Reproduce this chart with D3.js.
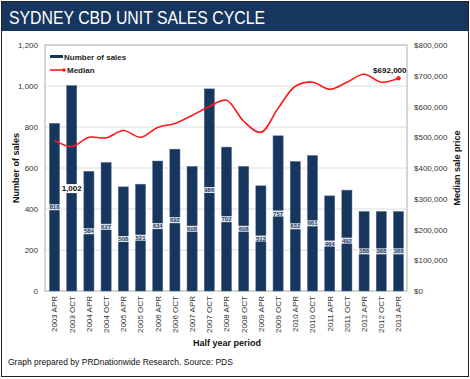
<!DOCTYPE html>
<html><head><meta charset="utf-8">
<script src="https://cdn.jsdelivr.net/npm/d3@7"></script>
<style>body{margin:0;background:#fff}svg{display:block;font-family:"Liberation Sans",Arial,sans-serif}</style>
</head><body>
<svg id="c" width="470" height="379"></svg>
<script>
const categories = ["2003 APR","2003 OCT","2004 APR","2004 OCT","2005 APR","2005 OCT","2006 APR","2006 OCT","2007 APR","2007 OCT","2008 APR","2008 OCT","2009 APR","2009 OCT","2010 APR","2010 OCT","2011 APR","2011 OCT","2012 APR","2012 OCT","2013 APR"];
const sales = [818,1002,584,627,508,521,634,692,608,986,702,608,513,757,632,661,464,492,388,388,388];
const median = [490000,470000,500000,498000,522000,500000,532000,545000,571000,600000,620000,552000,516000,594000,666000,679000,656000,679000,705000,679000,692000];
const leftTicks = [0,200,400,600,800,1000,1200];
const rightTicks = [0,100000,200000,300000,400000,500000,600000,700000,800000];

const svg = d3.select("#c");
// frame
svg.append("rect").attr("x",1.5).attr("y",1.5).attr("width",467).attr("height",375).attr("fill","#fff").attr("stroke","#222").attr("stroke-width",1);
svg.append("rect").attr("x",2).attr("y",2).attr("width",466).attr("height",29).attr("fill","#17365d");
svg.append("text").attr("x",9).attr("y",24).attr("fill","#fff").attr("font-size",17.5)
  .attr("textLength",256).attr("lengthAdjust","spacingAndGlyphs").text("SYDNEY CBD UNIT SALES CYCLE");

const L=45, R=407, T=45, B=291;
const x = d3.scaleBand().domain(categories).range([L+1,R]).paddingInner(0.41).paddingOuter(0.2);
const y = d3.scaleLinear().domain([0,1200]).range([B,T]);
const y2 = d3.scaleLinear().domain([0,800000]).range([B,T]);

// gridlines
svg.append("g").selectAll("line").data(leftTicks.slice(1)).join("line")
  .attr("x1",L).attr("x2",R).attr("y1",d=>y(d)).attr("y2",d=>y(d)).attr("stroke","#dcdcdc").attr("stroke-width",1);
svg.append("rect").attr("x",L).attr("y",T).attr("width",R-L).attr("height",B-T).attr("fill","none").attr("stroke","#c8c8c8").attr("stroke-width",1.5);

// axes
const ax = svg.append("g").attr("transform",`translate(${L},0)`).call(d3.axisLeft(y).tickValues(leftTicks).tickFormat(d3.format(",")).tickSize(0).tickPadding(7));
const ax2 = svg.append("g").attr("transform",`translate(${R},0)`).call(d3.axisRight(y2).tickValues(rightTicks).tickFormat(d=>"$"+d3.format(",")(d)).tickSize(0).tickPadding(7));
const axx = svg.append("g").attr("transform",`translate(0,${B})`).call(d3.axisBottom(x).tickSize(0).tickPadding(0));
[ax,ax2,axx].forEach(g=>{g.select(".domain").remove();g.selectAll("text").attr("font-size",8).attr("fill","#333").attr("font-family","Liberation Sans, Arial, sans-serif");});
axx.selectAll("text").attr("transform","rotate(-90)").attr("text-anchor","end").attr("x",-5).attr("y",0).attr("dy","0.35em").attr("dx",0);

// bars
svg.append("g").selectAll("rect").data(sales).join("rect")
  .attr("x",(d,i)=>x(categories[i])).attr("width",x.bandwidth())
  .attr("y",d=>y(d)).attr("height",d=>B-y(d)).attr("fill","#17365d").attr("stroke","#5a6f8f").attr("stroke-width",0.5);

// line
const line = d3.line().x((d,i)=>x(categories[i])+x.bandwidth()/2).y(d=>y2(d)).curve(d3.curveCatmullRom.alpha(0.5));
svg.append("path").datum(median).attr("d",line).attr("fill","none").attr("stroke","#ff1a1a").attr("stroke-width",1.6);
const last = median.length-1;
svg.append("circle").attr("cx",x(categories[last])+x.bandwidth()/2).attr("cy",y2(median[last])).attr("r",2.2).attr("fill","#ff1a1a");
svg.append("text").attr("x",x(categories[last])+x.bandwidth()/2+8).attr("y",y2(median[last])-5).attr("text-anchor","end")
  .attr("font-size",8).attr("font-weight","bold").attr("fill","#111").text("$"+d3.format(",")(median[last]));

// bar labels
const lg = svg.append("g");
sales.forEach((v,i)=>{
  const cx = x(categories[i])+x.bandwidth()/2, cy = y(v/2);
  const big = v>1000;
  const fs = big?8:6;
  const t = lg.append("text").attr("x",cx).attr("y",cy).attr("dy","0.35em").attr("text-anchor","middle")
    .attr("font-size",fs).attr("font-weight","bold").attr("fill",big?"#111":"#1f3d6b").text(d3.format(",")(v));
  const bb = t.node().getBBox();
  lg.insert("rect","text").attr("x",bb.x-1).attr("y",bb.y).attr("width",bb.width+2).attr("height",bb.height).attr("fill","#fff").attr("opacity",big?1:0.85);
});
lg.selectAll("text").raise();

// legend
svg.append("rect").attr("x",50).attr("y",55).attr("width",13).attr("height",3).attr("fill","#17365d");
svg.append("text").attr("x",64).attr("y",59.5).attr("font-size",8).attr("font-weight","bold").attr("fill","#222").text("Number of sales");
svg.append("line").attr("x1",50).attr("x2",64).attr("y1",70).attr("y2",70).attr("stroke","#ff1a1a").attr("stroke-width",1.6);
svg.append("circle").attr("cx",64).attr("cy",70).attr("r",1.8).attr("fill","#ff1a1a");
svg.append("text").attr("x",67).attr("y",73).attr("font-size",8).attr("font-weight","bold").attr("fill","#222").text("Median");

// axis titles
svg.append("text").attr("transform","translate(19,168) rotate(-90)").attr("text-anchor","middle").attr("font-size",9).attr("font-weight","bold").attr("fill","#111").text("Number of sales");
svg.append("text").attr("transform","translate(460,168) rotate(-90)").attr("text-anchor","middle").attr("font-size",9).attr("font-weight","bold").attr("fill","#111").text("Median sale price");
svg.append("text").attr("x",227).attr("y",346).attr("text-anchor","middle").attr("font-size",9).attr("font-weight","bold").attr("fill","#111").text("Half year period");
svg.append("text").attr("x",8).attr("y",365).attr("font-size",8.5).attr("fill","#111").text("Graph prepared by PRDnationwide Research. Source: PDS");
</script>
</body></html>
